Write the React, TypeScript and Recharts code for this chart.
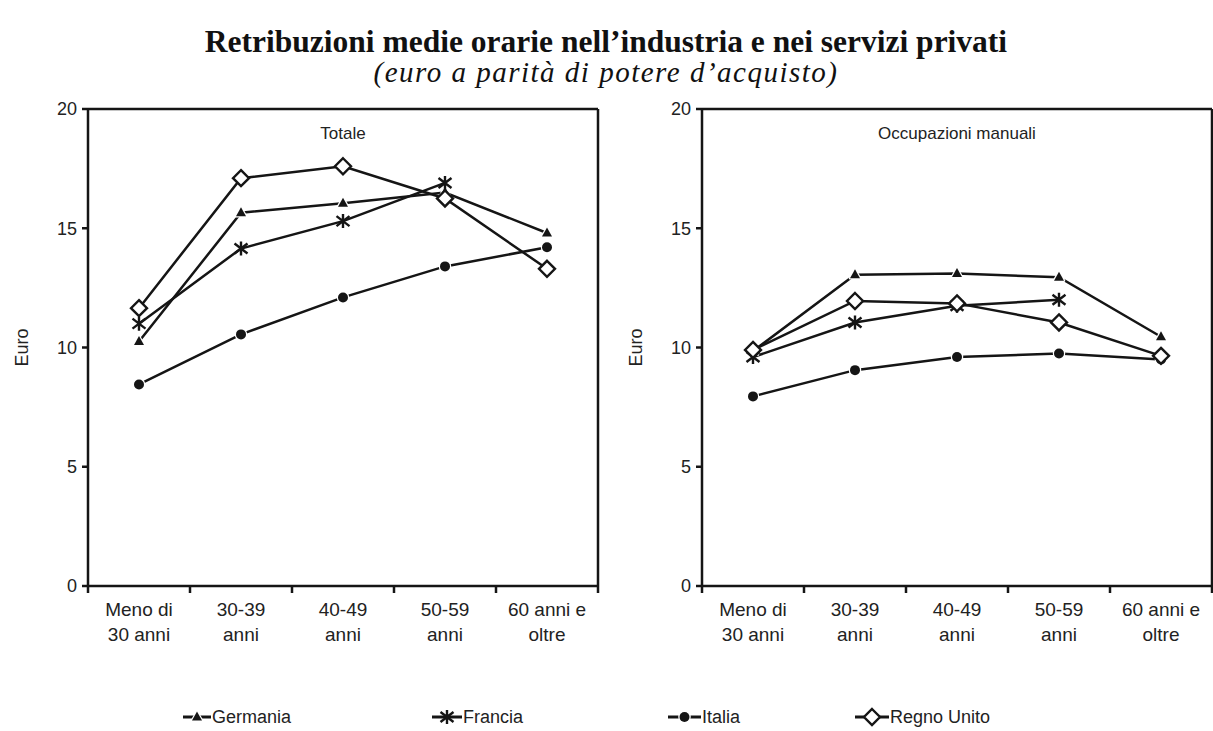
import React from "react";
import { LineChart, Line, XAxis, YAxis, ReferenceLine, Label } from "recharts";

const categories = ["Meno di 30 anni", "30-39 anni", "40-49 anni", "50-59 anni", "60 anni e oltre"];
const categoryLines = [
  ["Meno di", "30 anni"],
  ["30-39", "anni"],
  ["40-49", "anni"],
  ["50-59", "anni"],
  ["60 anni e", "oltre"],
];
const yTicks = [0, 5, 10, 15, 20];
const seriesNames = ["Germania", "Francia", "Italia", "Regno Unito"];

// Totale
const totaleGermania = [10.25, 15.65, 16.05, 16.5, 14.8];
const totaleFrancia = [11.0, 14.15, 15.3, 16.9, null];
const totaleItalia = [8.45, 10.55, 12.1, 13.4, 14.2];
const totaleRegnoUnito = [11.65, 17.1, 17.6, 16.25, 13.3];

// Occupazioni manuali
const manualiGermania = [9.85, 13.05, 13.1, 12.95, 10.45];
const manualiFrancia = [9.6, 11.05, 11.75, 12.0, null];
const manualiItalia = [7.95, 9.05, 9.6, 9.75, 9.5];
const manualiRegnoUnito = [9.9, 11.95, 11.85, 11.05, 9.65];

const buildRows = (g: (number | null)[], f: (number | null)[], i: (number | null)[], u: (number | null)[]) =>
  categories.map((cat, k) => ({ cat, Germania: g[k], Francia: f[k], Italia: i[k], "Regno Unito": u[k] }));

const totaleData = buildRows(totaleGermania, totaleFrancia, totaleItalia, totaleRegnoUnito);
const manualiData = buildRows(manualiGermania, manualiFrancia, manualiItalia, manualiRegnoUnito);

const INK = "#151515";
const TEXT = "#222";
const FONT = "'Liberation Sans', Arial, sans-serif";
const axisStyle = { stroke: INK, strokeWidth: 2.5 };

function triangle(cx: number, cy: number, key?: any) {
  return (
    <path key={key} d={`M${cx},${cy - 5.5}L${cx + 5},${cy + 3.5}L${cx - 5},${cy + 3.5}Z`}
      fill={INK} stroke="#fff" strokeWidth={2.5} paintOrder="stroke" strokeLinejoin="round" />
  );
}
function star(cx: number, cy: number, key?: any) {
  return (
    <path key={key}
      d={`M${cx},${cy - 7}V${cy + 7}M${cx - 6.5},${cy - 5}L${cx + 6.5},${cy + 5}M${cx + 6.5},${cy - 5}L${cx - 6.5},${cy + 5}`}
      stroke={INK} strokeWidth={2.4} fill="none" />
  );
}
function dotMark(cx: number, cy: number, key?: any) {
  return <circle key={key} cx={cx} cy={cy} r={5} fill={INK} stroke="#fff" strokeWidth={2.5} paintOrder="stroke" />;
}
function diamond(cx: number, cy: number, key?: any) {
  return (
    <path key={key} d={`M${cx},${cy - 8}L${cx + 8},${cy}L${cx},${cy + 8}L${cx - 8},${cy}Z`}
      fill="#fff" stroke={INK} strokeWidth={2.4} strokeLinejoin="miter" />
  );
}
const markers: Record<string, (cx: number, cy: number, key?: any) => JSX.Element> = {
  Germania: triangle,
  Francia: star,
  Italia: dotMark,
  "Regno Unito": diamond,
};

const emptyTick = () => <g />;

// label at the band centre, tick marks at the band edges
function CategoryTick(props: any) {
  const { x, y, payload, width, visibleTicksCount, index } = props;
  const half = payload.offset || width / visibleTicksCount / 2;
  const lines = categoryLines[categories.indexOf(payload.value)] || [payload.value];
  const last = index === visibleTicksCount - 1;
  return (
    <g>
      <line x1={x - half} x2={x - half} y1={y} y2={y + 7} stroke={INK} strokeWidth={2.5} />
      {last && <line x1={x + half} x2={x + half} y1={y} y2={y + 7} stroke={INK} strokeWidth={2.5} />}
      <text x={x} y={y} textAnchor="middle" fontSize={19} fill={TEXT} fontFamily={FONT}>
        {lines.map((l, k) => (
          <tspan key={k} x={x} dy={k === 0 ? 30 : 25}>{l}</tspan>
        ))}
      </text>
    </g>
  );
}

function Panel({ title, data, left, width, marginRight }: any) {
  return (
    <div style={{ position: "absolute", left, top: 0 }}>
      <LineChart width={width} height={656} data={data} margin={{ top: 109, right: marginRight, bottom: 0, left: 0 }}>
        <XAxis xAxisId="cat" dataKey="cat" scale="band" interval={0} height={70} tickSize={0} tickMargin={0}
          tickLine={false} axisLine={axisStyle} tick={<CategoryTick />} />
        <YAxis yAxisId="l" domain={[0, 20]} ticks={yTicks} interval={0} width={88} tickSize={6} tickMargin={5}
          axisLine={axisStyle} tickLine={axisStyle} tick={{ fontSize: 18, fill: TEXT, fontFamily: FONT }}>
          <Label value="Euro" angle={-90} position="insideLeft" offset={22}
            style={{ textAnchor: "middle", fontSize: 18, fill: TEXT, fontFamily: FONT }} />
        </YAxis>
        <YAxis yAxisId="r" orientation="right" domain={[0, 20]} ticks={[20]} width={1}
          tick={emptyTick} tickLine={false} axisLine={axisStyle} />
        <ReferenceLine xAxisId="cat" yAxisId="l" y={20} stroke={INK} strokeWidth={2.5}
          label={{ value: title, position: "insideTop", offset: 18, fontSize: 17, fill: TEXT, fontFamily: FONT }} />
        {seriesNames.map((name) => (
          <Line key={name} xAxisId="cat" yAxisId="l" dataKey={name} type="linear" stroke={INK} strokeWidth={2.5}
            isAnimationActive={false} activeDot={false}
            dot={(p: any) => (p.cx == null || p.cy == null ? <g key={p.index} /> : markers[name](p.cx, p.cy, p.index))} />
        ))}
      </LineChart>
    </div>
  );
}

const legendPos = [
  { x1: 183, x2: 211 },
  { x1: 432, x2: 462 },
  { x1: 668, x2: 701 },
  { x1: 855, x2: 889 },
];

export default function App() {
  return (
    <div style={{ position: "absolute", left: 0, top: 0, width: 1213, height: 731, overflow: "hidden", background: "#fff" }}>
      <Panel title="Totale" data={totaleData} left={0} width={610} marginRight={11} />
      <Panel title="Occupazioni manuali" data={manualiData} left={614} width={599} marginRight={0} />
      <svg width={1213} height={731} style={{ position: "absolute", left: 0, top: 0, pointerEvents: "none" }}>
        <text x={606} y={52} textAnchor="middle" fontFamily="'Liberation Serif', 'Times New Roman', serif"
          fontWeight="bold" fontSize={31.5} fill="#111">
          Retribuzioni medie orarie nell’industria e nei servizi privati
        </text>
        <text x={606} y={82} textAnchor="middle" fontFamily="'Liberation Serif', 'Times New Roman', serif"
          fontStyle="italic" fontSize={29} letterSpacing={1.5} fill="#111">
          (euro a parità di potere d’acquisto)
        </text>
        {seriesNames.map((name, k) => {
          const { x1, x2 } = legendPos[k];
          const cx = (x1 + x2) / 2;
          return (
            <g key={name}>
              <line x1={x1} x2={x2} y1={717} y2={717} stroke={INK} strokeWidth={3} />
              {markers[name](cx, 717)}
              <text x={x2 + 1} y={723} fontSize={18} fill={TEXT} fontFamily={FONT}>{name}</text>
            </g>
          );
        })}
      </svg>
    </div>
  );
}
